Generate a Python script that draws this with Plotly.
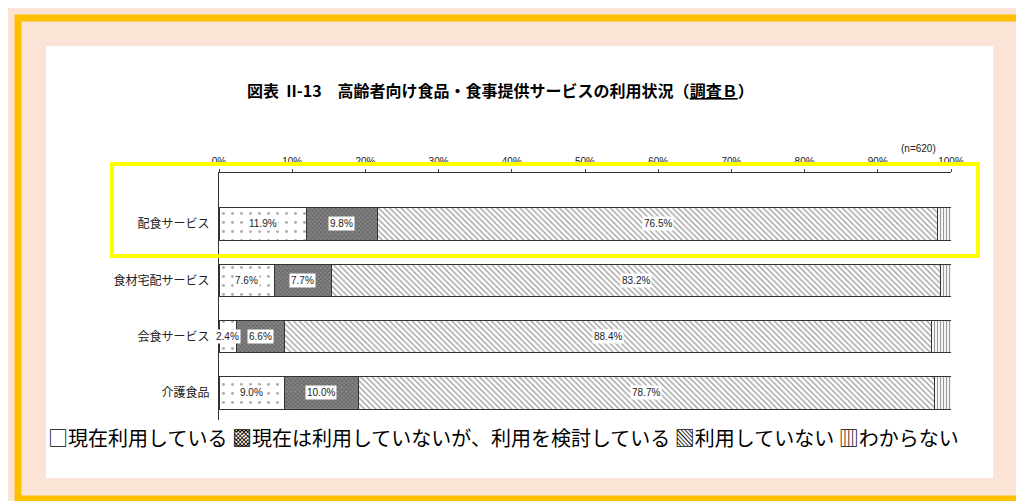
import plotly.graph_objects as go

categories = ["配食サービス", "食材宅配サービス", "会食サービス", "介護食品"]
series_names = ["現在利用している", "現在は利用していないが、利用を検討している", "利用していない", "わからない"]
using = [11.9, 7.6, 2.4, 9.0]
considering = [9.8, 7.7, 6.6, 10.0]
not_using = [76.5, 83.2, 88.4, 78.7]
unknown = [1.8, 1.5, 2.6, 2.3]
tick_vals = [0, 10, 20, 30, 40, 50, 60, 70, 80, 90, 100]
tick_text = [f"{v}%" for v in tick_vals]

W, H = 1024, 501
def px(x): return x / W
def py(y): return 1 - y / H

fig = go.Figure()
styles = [
    dict(shape=".", fg="#555", bg="white", size=9, solidity=0.08),
    dict(shape="x", fg="#444", bg="#888", size=3, solidity=0.5),
    dict(shape="\\", fg="#444", bg="white", size=4, solidity=0.35),
    dict(shape="|", fg="#333", bg="white", size=3, solidity=0.4),
]
for name, vals, st in zip(series_names, [using, considering, not_using, unknown], styles):
    fig.add_trace(go.Bar(
        y=categories, x=vals, orientation="h", name=name, width=0.57,
        marker=dict(color=st["bg"], line=dict(color="#333", width=1),
                    pattern=dict(shape=st["shape"], fgcolor=st["fg"], bgcolor=st["bg"],
                                 size=st["size"], solidity=st["solidity"], fillmode="overlay")),
        showlegend=False, hoverinfo="skip"))

ann = []
for i, c in enumerate(categories):
    start = 0
    for j, vals in enumerate([using, considering, not_using]):
        v = vals[i]
        ann.append(dict(x=start + v / 2, y=c, xref="x", yref="y", text=f"{v}%",
                        showarrow=False, bgcolor="white", font=dict(size=10, color="#222", family="Liberation Sans Narrow, Liberation Sans")))
        start += v
ann.append(dict(x=103.5, y=categories[0], xref="x", yref="y", text=f"{unknown[0]}%", showarrow=False,
                font=dict(size=10, color="#222", family="Liberation Sans")))

ann += [
    dict(x=px(492), y=py(68), xref="paper", yref="paper", text="<b>図表  II-13　高齢者向け食品・食事提供サービスの利用状況（<u>調査Ｂ</u>）</b>",
         showarrow=False, font=dict(size=16, color="black", family="Noto Sans CJK JP"), xanchor="center"),
    dict(x=px(930), y=py(133), xref="paper", yref="paper", text="(n=620)", showarrow=False, xanchor="right",
         font=dict(size=10, color="#222", family="Liberation Sans")),
    dict(x=px(38), y=py(446), xref="paper", yref="paper", xanchor="left",
         text="□現在利用している ▩現在は利用していないが、利用を検討している ▧利用していない ▥わからない",
         showarrow=False, font=dict(size=20, color="black", family="Noto Sans CJK JP")),
]

shapes = [
    dict(type="rect", xref="paper", yref="paper", x0=0, x1=1, y0=0, y1=1, fillcolor="#fbe3d6", line=dict(width=0), layer="below"),
    dict(type="rect", xref="paper", yref="paper", x0=px(10), x1=px(1014), y0=py(491), y1=py(10),
         fillcolor="rgba(0,0,0,0)", line=dict(color="#ffc000", width=7), layer="below"),
    dict(type="rect", xref="paper", yref="paper", x0=px(38), x1=px(985), y0=py(470), y1=py(38),
         fillcolor="white", line=dict(width=0), layer="below"),
    dict(type="rect", xref="paper", yref="paper", x0=px(104), x1=px(970), y0=py(248), y1=py(156),
         fillcolor="rgba(0,0,0,0)", line=dict(color="#ffff00", width=4)),
]

fig.update_layout(
    width=W, height=H, margin=dict(l=0, r=0, t=0, b=0, autoexpand=False),
    paper_bgcolor="#fbe3d6", plot_bgcolor="rgba(0,0,0,0)", barmode="stack",
    annotations=ann, shapes=shapes,
    xaxis=dict(domain=[px(211), px(943)], range=[0, 100], side="top", tickvals=tick_vals, ticktext=tick_text,
               showgrid=False, zeroline=False, showline=True, linecolor="#333", ticks="outside", ticklen=3,
               automargin=False, tickfont=dict(size=10, color="#222", family="Liberation Sans")),
    yaxis=dict(domain=[py(412), py(165)], range=[3.48, -0.905], showgrid=False, zeroline=False,
               showline=True, linecolor="#333", ticks="", automargin=False, ticklabelstandoff=6,
               tickfont=dict(size=12, color="#222", family="Noto Sans CJK JP")),
    font=dict(family="Noto Sans CJK JP"),
)
fig.write_html("out.html")
